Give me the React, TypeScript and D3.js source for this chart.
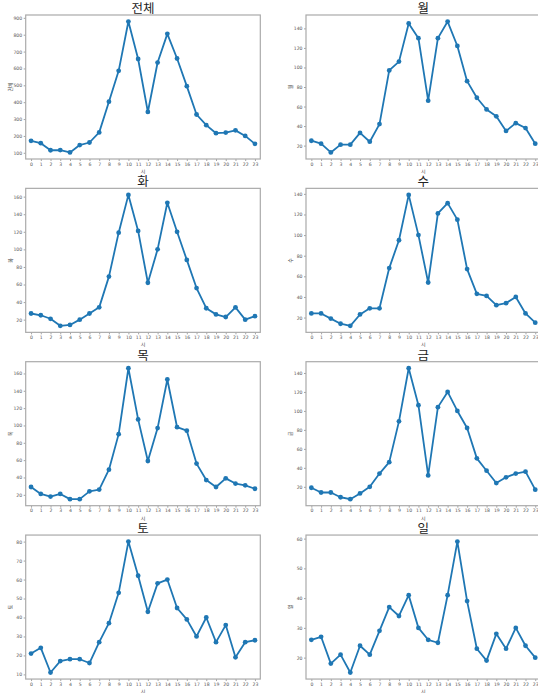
import React, { useEffect, useRef } from 'react';
import * as d3 from 'd3';

const hours = d3.range(24);

const titles = ['전체', '월', '화', '수', '목', '금', '토', '일'];

const allDays = [171, 157, 115, 116, 102, 146, 161, 221, 403, 586, 878, 656, 342, 635, 805, 659, 495, 327, 264, 216, 220, 233, 200, 153];
const mon = [25, 22, 13, 21, 21, 33, 24, 42, 97, 106, 145, 130, 66, 130, 147, 122, 86, 69, 57, 50, 35, 43, 38, 22];
const tue = [27, 25, 21, 13, 14, 20, 27, 34, 69, 119, 162, 121, 62, 100, 153, 120, 88, 56, 33, 26, 23, 34, 20, 24];
const wed = [24, 24, 19, 14, 12, 23, 29, 29, 68, 95, 139, 100, 54, 121, 131, 115, 67, 43, 41, 32, 34, 40, 24, 15];
const thu = [29, 21, 18, 21, 15, 15, 24, 26, 49, 90, 166, 107, 59, 97, 153, 98, 94, 56, 37, 29, 39, 33, 31, 27];
const fri = [19, 14, 14, 9, 7, 13, 20, 34, 46, 89, 145, 106, 32, 104, 120, 100, 82, 50, 37, 24, 30, 34, 36, 17];
const sat = [21, 24, 11, 17, 18, 18, 16, 27, 37, 53, 80, 62, 43, 58, 60, 45, 39, 30, 40, 27, 36, 19, 27, 28];
const sun = [26, 27, 18, 21, 15, 24, 21, 29, 37, 34, 41, 30, 26, 25, 41, 59, 39, 23, 19, 28, 23, 30, 24, 20];

const seriesList = [allDays, mon, tue, wed, thu, fri, sat, sun];
// y tick step per panel
const yStep = [100, 20, 20, 20, 20, 20, 10, 10];

export default function App() {
    const ref = useRef<SVGSVGElement | null>(null);

    useEffect(() => {
        if (!ref.current) return;
        const svg = d3.select(ref.current);
        svg.selectAll('*').remove();

        const colLeft = [25.7, 306];
        const w = 234.6, h = 144;
        const rowTop = (r: number) => 15 + r * 173.35;
        const blue = '#1f77b4';
        const numFont = 'DejaVu Sans, sans-serif';
        const krFont = '"Noto Sans CJK KR", sans-serif';

        seriesList.forEach((vals, i) => {
            const col = i % 2, row = Math.floor(i / 2);
            const g = svg.append('g')
                .attr('transform', `translate(${colLeft[col]},${rowTop(row)})`);

            const x = d3.scaleLinear().domain([-0.55, 23.55]).range([0, w]);
            const lo = d3.min(vals)!, hi = d3.max(vals)!;
            const pad = (hi - lo) * 0.05;
            const y = d3.scaleLinear().domain([lo - pad, hi + pad]).range([h, 0]);

            // y axis
            const step = yStep[i];
            const yt = d3.range(Math.ceil((lo - pad) / step) * step, hi + pad, step);
            const ya = g.append('g').call(d3.axisLeft(y).tickValues(yt).tickSize(2).tickPadding(1.5).tickFormat(d3.format('d')));
            ya.select('.domain').remove();
            ya.selectAll('line').attr('stroke', '#666').attr('stroke-width', 0.6);
            ya.selectAll('text').attr('font-size', 4.6).attr('font-family', numFont).attr('fill', '#555');

            // x axis
            const xa = g.append('g').attr('transform', `translate(0,${h})`)
                .call(d3.axisBottom(x).tickValues(hours).tickSize(2).tickPadding(1.5).tickFormat(d3.format('d')));
            xa.select('.domain').remove();
            xa.selectAll('line').attr('stroke', '#666').attr('stroke-width', 0.6);
            xa.selectAll('text').attr('font-size', 4.6).attr('font-family', numFont).attr('fill', '#555');

            // frame
            g.append('rect').attr('width', w).attr('height', h)
                .attr('fill', 'none').attr('stroke', '#aaa').attr('stroke-width', 1.2);

            // line + markers
            g.append('path').datum(vals)
                .attr('fill', 'none').attr('stroke', blue).attr('stroke-width', 1.8)
                .attr('stroke-linejoin', 'round')
                .attr('d', d3.line<number>().x((_, k) => x(k)).y(d => y(d)));
            g.selectAll('circle.pt').data(vals).enter().append('circle')
                .attr('class', 'pt')
                .attr('cx', (_, k) => x(k)).attr('cy', d => y(d)).attr('r', 2.4)
                .attr('fill', blue);

            // title
            g.append('text').attr('x', w / 2).attr('y', -2)
                .attr('text-anchor', 'middle').attr('font-family', krFont)
                .attr('font-size', 12.5).attr('fill', '#222').text(titles[i]);

            // axis labels
            g.append('text').attr('x', w / 2).attr('y', h + 14)
                .attr('text-anchor', 'middle').attr('font-family', krFont)
                .attr('font-size', 5).attr('fill', '#444').text('시');
            g.append('text')
                .attr('transform', `translate(-14,${h / 2}) rotate(-90)`)
                .attr('text-anchor', 'middle').attr('font-family', krFont)
                .attr('font-size', 5).attr('fill', '#444').text(titles[i]);
        });
    }, []);

    return (
        <svg ref={ref} width={538} height={693}
            style={{ position: 'absolute', left: 0, top: 0, background: '#fff' }} />
    );
}
